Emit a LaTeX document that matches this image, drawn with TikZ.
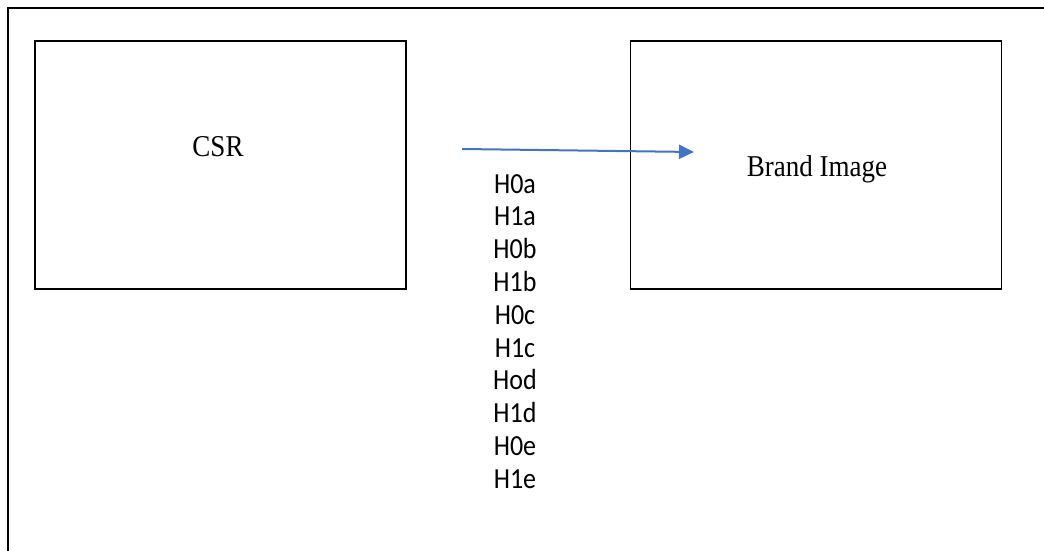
\documentclass[tikz,border=0pt]{standalone}
\usepackage{fontspec}
\setmainfont{Liberation Serif}
\newfontfamily\hypfont{Carlito}
\usetikzlibrary{arrows.meta}

\definecolor{linkblue}{RGB}{68,114,196}
% text is drawn a little taller than wide
\newcommand{\tall}[1]{\scalebox{1}[1.12]{#1}}

\begin{document}
\begin{tikzpicture}[
  x=1pt, y=-1pt,
  box/.style={draw=black, line width=1.5pt, minimum width=371pt, minimum height=248pt, inner sep=0pt},
  title/.style={font=\fontsize{27}{30}\selectfont, anchor=base},
  hyp/.style={font=\hypfont\fontsize{26}{30}\selectfont, anchor=base},
  arrow/.style={-{Triangle[length=15pt, width=14pt]}, line width=2pt, draw=linkblue}
]
\useasboundingbox (0,0) rectangle (1044,551);
% frame, open at the right and the bottom
\draw[line width=2pt] (8,551) -- (8,8) -- (1044,8);

\node[box] (csr) at (220.5,165) {};
\node[box] (brand) at (816,165) {};
\node[title] (csrtext) at (218,156) {\tall{CSR}};
\node[title] (brandtext) at (817,176) {\tall{Brand Image}};

\coordinate (from) at (462,149);
\coordinate (to) at (694,152);
\draw[arrow] (from) -- (to);

% hypotheses
\foreach \h [count=\i from 0] in {H0a,H1a,H0b,H1b,H0c,H1c,Hod,H1d,H0e,H1e}
  \node[hyp] (hyp\i) at (515,193+32.8*\i) {\tall{\h}};
\end{tikzpicture}
\end{document}
